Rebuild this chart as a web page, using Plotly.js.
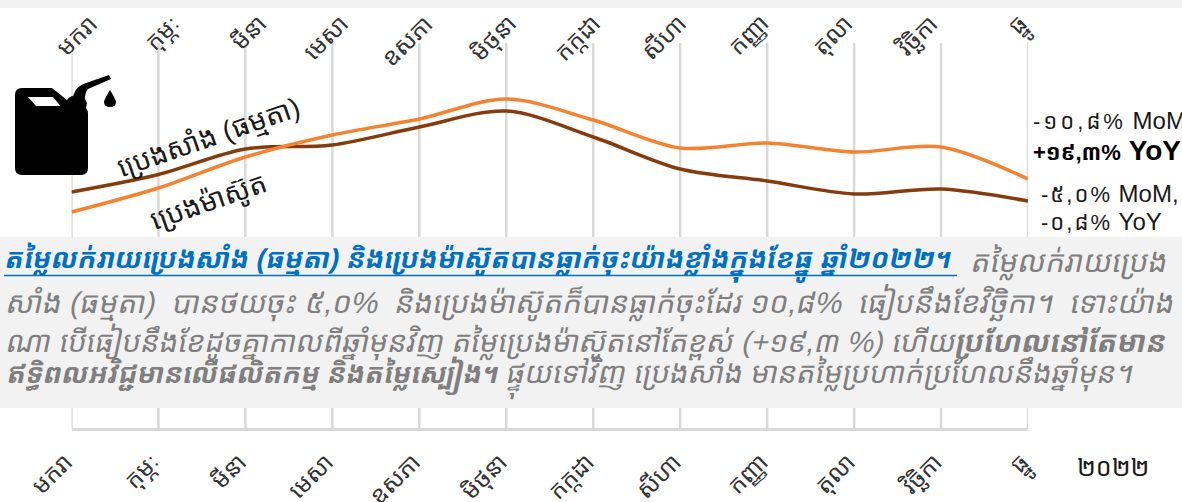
<!DOCTYPE html>
<html><head><meta charset="utf-8">
<script src="https://cdn.plot.ly/plotly-3.0.0.min.js"></script>
<style>html,body{margin:0;padding:0;background:#fff;overflow:hidden}
</style></head>
<body><div id="chart" style="width:1182px;height:502px"></div>
<script>
const months = ['មករា','កុម្ភៈ','មីនា','មេសា','ឧសភា','មិថុនា','កក្កដា','សីហា','កញ្ញា','តុលា','វិច្ឆិកា','ធ្នូ'];
const gasoline = [236,253.5,279,283,301,317,291,259,247,234,239,227];
const diesel = [216,240,271,293,309,329,308,280,285,276,281,249];
const topLabelEnds = [105,189,274,356,441,526,610,694,778,862,947,1041];
const W=1182,H=502;
const KH='"Liberation Sans","Noto Sans Khmer","Khmer OS","Noto Sans","DejaVu Sans",sans-serif';
const px=x=>x/W, py=y=>1-y/H;
function path(cmds){return cmds.map(c=>c[0]+(c.length>1?c.slice(1).reduce((a,v,i)=>a+(i?(i%2?',':' '):'')+(i%2?py(v):px(v)),''):'')).join(' ');}
const can=path([['M',15,95],['Q',15,88,22,88],['L',52,88],['L',67,100],['Q',70,96,73,96],['Q',76,86,86,83],['L',109,75],['L',111,79],['L',88,89],['Q',85,92,85,99],['L',87,103],['L',86,108],['Q',88,110,88,114],['L',88,168],['Q',88,175,81,175],['L',22,175],['Q',15,175,15,168],['Z']]);
const win=path([['M',28,97],['L',53,97],['L',60.5,106],['L',36,106],['Z']]);
const drop=path([['M',110,90],['Q',104,100,104,102],['Q',104,107,110,107],['Q',116,107,116,102],['Q',116,100,110,90],['Z']]);
const GR='#7f7f7f', BL='#0070c0', BK='#1a1a1a';
function T(x,y,text,size,color,opt){return Object.assign({xref:'paper',yref:'paper',x:px(x),y:py(y),text:text,showarrow:false,xanchor:'left',yanchor:'middle',align:'left',font:{family:KH,size:size,color:color}},opt||{});}
const D=(t,sp)=>'<span style="font-size:22px;letter-spacing:'+sp+'px">'+t+'</span>';
const data=[
 {x:months,y:gasoline,type:'scatter',mode:'lines',name:'ប្រេងសាំង (ធម្មតា)',line:{color:'#843c0c',width:3.5,shape:'spline',smoothing:0.9},hoverinfo:'skip'},
 {x:months,y:diesel,type:'scatter',mode:'lines',name:'ប្រេងម៉ាស៊ូត',line:{color:'#f4822f',width:3.5,shape:'spline',smoothing:0.9},hoverinfo:'skip'}
];
const axisFont={family:KH,size:24,color:'#333'};
const gridShapes=months.map(m=>({type:'line',xref:'x',yref:'paper',x0:m,x1:m,y0:py(428),y1:py(43),line:{color:'#d9d9d9',width:2.5},layer:'below'}));
const topLabels=months.map((m,i)=>T(topLabelEnds[i],7,m,24,'#333',{xanchor:'right',yanchor:'top',textangle:-45}));
const layout={
 width:W,height:H,margin:{l:0,r:0,t:0,b:0,pad:0},showlegend:false,paper_bgcolor:'#fff',plot_bgcolor:'#fff',
 xaxis:{domain:[px(71.5),px(1028)],type:'category',range:[0,11],showgrid:false,showline:true,linecolor:'#d9d9d9',linewidth:2.5,zeroline:false,ticks:'',tickangle:-45,tickfont:axisFont,ticklabelstandoff:8,ticklabelshift:-6,automargin:false,anchor:'y'},
 yaxis:{domain:[py(428),py(43)],range:[0,385],visible:false,fixedrange:true},
 shapes:gridShapes.concat([
  {type:'rect',xref:'paper',yref:'paper',x0:0,x1:1,y0:py(8),y1:1,fillcolor:'#f2f2f2',line:{width:0},layer:'above'},
  {type:'rect',xref:'paper',yref:'paper',x0:0,x1:1,y0:py(408),y1:py(237),fillcolor:'#f2f2f2',line:{width:0},layer:'above'},
  {type:'line',xref:'paper',yref:'paper',x0:px(4),x1:px(957),y0:py(275.5),y1:py(275.5),line:{color:BL,width:1.5},layer:'above'},
  {type:'path',xref:'paper',yref:'paper',path:can,fillcolor:'#000',line:{width:0},layer:'above'},
  {type:'path',xref:'paper',yref:'paper',path:win,fillcolor:'#fff',line:{width:0},layer:'above'},
  {type:'path',xref:'paper',yref:'paper',path:drop,fillcolor:'#000',line:{width:0},layer:'above'}
 ]),
 annotations:[
  T(208,138,'ប្រេងសាំង (ធម្មតា)',28,BK,{xanchor:'center',textangle:-19}),
  T(208,202,'ប្រេងម៉ាស៊ូត',28,BK,{xanchor:'center',textangle:-19}),
  T(1031,120,D('-១០,៨%',3)+' MoM',24,BK),
  T(1031,151,'<b><span style="font-size:22px">+១៩,៣%</span> YoY</b>',28,'#000'),
  T(1039,193,D('-៥,០%',2)+' MoM,',24,BK),
  T(1039,221,D('-០,៨%',2)+' YoY',24,BK),
  T(3,262,'<b>តម្លៃលក់រាយប្រេងសាំង (ធម្មតា) និងប្រេងម៉ាស៊ូតបានធ្លាក់ចុះយ៉ាងខ្លាំងក្នុងខែធ្នូ ឆ្នាំ២០២២។</b>',27.4,BL),
  T(970,262,'តម្លៃលក់រាយប្រេង',30,GR),
  T(5,302,'សាំង (ធម្មតា)  បានថយចុះ ៥,០%  និងប្រេងម៉ាស៊ូតក៏បានធ្លាក់ចុះដែរ ១០,៨%  ធៀបនឹងខែវិច្ឆិកា។  ទោះយ៉ាង',30,GR),
  T(5,342,'ណា បើធៀបនឹងខែដូចគ្នាកាលពីឆ្នាំមុនវិញ តម្លៃប្រេងម៉ាស៊ូតនៅតែខ្ពស់ (+១៩,៣ %) ហើយ<b>ប្រហែលនៅតែមាន</b>',29.4,GR),
  T(5,378,'<b><span style="font-size:27.5px">ឥទ្ធិពលអវិជ្ជមានលើផលិតកម្ម និងតម្លៃស្បៀង។</span></b> ផ្ទុយទៅវិញ ប្រេងសាំង មានតម្លៃប្រហាក់ប្រហែលនឹងឆ្នាំមុន។',29.4,GR),
  T(1075,467,'២០២២',25,BK)
 ].concat(topLabels)
};
Plotly.newPlot('chart',data,layout,{displayModeBar:false,staticPlot:true}).then(()=>{
  const groups=document.querySelectorAll('#chart g.annotation');
  for(let i=6;i<=10;i++){const t=groups[i]&&groups[i].querySelector('text');
    if(t){t.style.transform='skewX(-12deg)';t.style.transformBox='fill-box';t.style.transformOrigin='50% 50%';}}
});
</script></body></html>
